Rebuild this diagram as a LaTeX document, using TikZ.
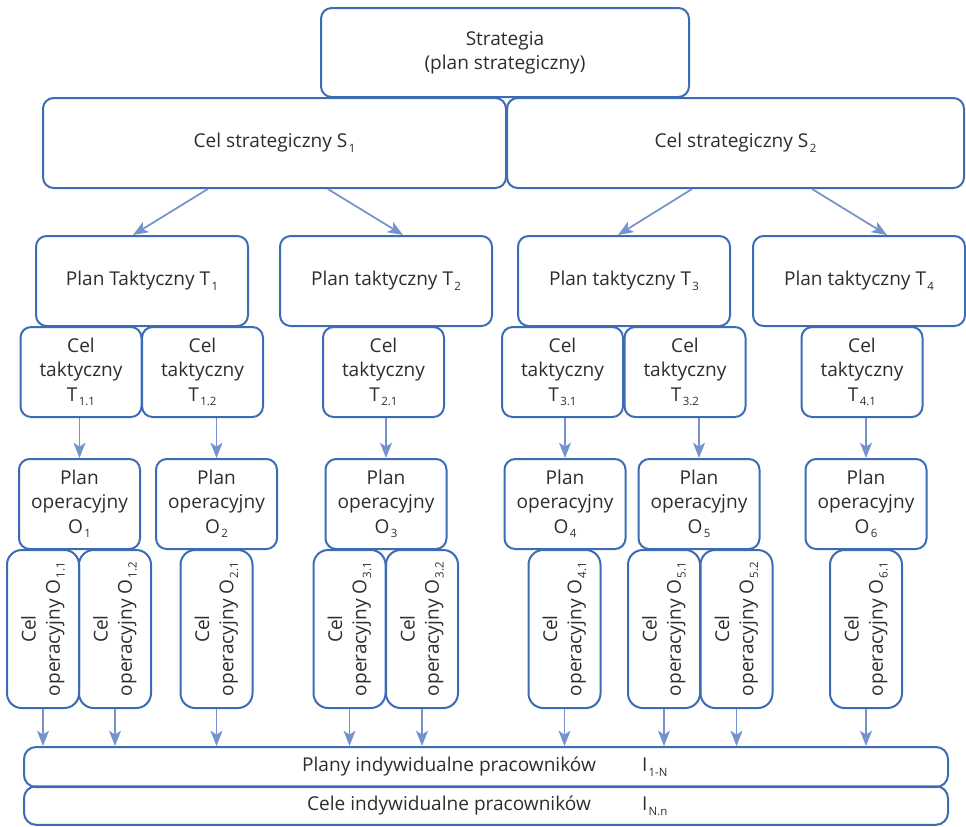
\documentclass[tikz,border=0pt]{standalone}
\usepackage{fontspec}
\setmainfont{Open Sans}
\usetikzlibrary{arrows.meta}
\definecolor{boxblue}{RGB}{59,108,180}
\definecolor{arrowblue}{RGB}{118,146,204}
\definecolor{txtgray}{RGB}{45,45,45}
\newcommand{\ix}[1]{\kern1pt\raisebox{-3.5pt}{\fontsize{8.6}{9}\selectfont #1}}
\newcommand{\indrow}[2]{\makebox[289.5pt]{#1}\makebox[55.5pt][l]{I\ix{#2}}}

\begin{document}
\begin{tikzpicture}[x=0.75pt, y=-0.75pt,
  every node/.style={font=\fontsize{14.3}{18.2}\selectfont, text=txtgray},
  topbox/.style={draw=boxblue, line width=1.5pt, rounded corners=8pt, align=center, inner sep=0pt, minimum height=67.5pt},
  smallbox/.style={topbox, minimum width=90.75pt},
  opbox/.style={draw=boxblue, line width=1.5pt, rounded corners=11pt, align=center, inner sep=0pt, rotate=90, minimum width=118.5pt, minimum height=54pt},
  indbox/.style={draw=boxblue, line width=1.5pt, rounded corners=9pt, inner sep=0pt, minimum width=693pt},
  arrow/.style={-{Stealth[length=11.5pt, width=9pt, inset=3pt]}, draw=arrowblue, line width=1.3pt}
]
\useasboundingbox (0,0) rectangle (966,826);

\node[topbox, minimum width=276pt, minimum height=66.75pt] (strat) at (505,52.5) {Strategia\\(plan strategiczny)};
\node[topbox, minimum width=347.25pt] (s1) at (274.5,143) {Cel strategiczny S\ix{1}};
\node[topbox, minimum width=342.75pt] (s2) at (735.5,143) {Cel strategiczny S\ix{2}};

\node[topbox, minimum width=159pt] (pt1) at (142,281) {Plan Taktyczny T\ix{1}};
\node[topbox, minimum width=159pt] (pt2) at (386,281) {Plan taktyczny T\ix{2}};
\node[topbox, minimum width=159pt] (pt3) at (624,281) {Plan taktyczny T\ix{3}};
\node[topbox, minimum width=159pt] (pt4) at (859,281) {Plan taktyczny T\ix{4}};

\node[smallbox] (ct11) at (81,372) {Cel\\taktyczny\\T\ix{1.1}};
\node[smallbox] (ct12) at (202.5,372) {Cel\\taktyczny\\T\ix{1.2}};
\node[smallbox] (ct21) at (383.5,372) {Cel\\taktyczny\\T\ix{2.1}};
\node[smallbox] (ct31) at (562.5,372) {Cel\\taktyczny\\T\ix{3.1}};
\node[smallbox] (ct32) at (685,372) {Cel\\taktyczny\\T\ix{3.2}};
\node[smallbox] (ct41) at (862,372) {Cel\\taktyczny\\T\ix{4.1}};

\node[smallbox] (po1) at (79.5,504) {Plan\\operacyjny\\O\ix{1}};
\node[smallbox] (po2) at (216.5,504) {Plan\\operacyjny\\O\ix{2}};
\node[smallbox] (po3) at (386,504) {Plan\\operacyjny\\O\ix{3}};
\node[smallbox] (po4) at (565,504) {Plan\\operacyjny\\O\ix{4}};
\node[smallbox] (po5) at (699,504) {Plan\\operacyjny\\O\ix{5}};
\node[smallbox] (po6) at (866,504) {Plan\\operacyjny\\O\ix{6}};

\node[opbox] (oc11) at (43,629) {Cel\\operacyjny O\ix{1.1}};
\node[opbox] (oc12) at (115,629) {Cel\\operacyjny O\ix{1.2}};
\node[opbox] (oc21) at (216.5,629) {Cel\\operacyjny O\ix{2.1}};
\node[opbox] (oc31) at (349.5,629) {Cel\\operacyjny O\ix{3.1}};
\node[opbox] (oc32) at (422,629) {Cel\\operacyjny O\ix{3.2}};
\node[opbox] (oc41) at (564.5,629) {Cel\\operacyjny O\ix{4.1}};
\node[opbox] (oc51) at (664,629) {Cel\\operacyjny O\ix{5.1}};
\node[opbox] (oc52) at (736.5,629) {Cel\\operacyjny O\ix{5.2}};
\node[opbox] (oc61) at (866,629) {Cel\\operacyjny O\ix{6.1}};

\node[indbox, minimum height=30pt] (plany) at (486,767) {\indrow{Plany indywidualne pracowników}{1-N}};
\node[indbox, minimum height=28.9pt] (cele) at (486,805.5) {\indrow{Cele indywidualne pracowników}{N.n}};

\draw[arrow] ([xshift=-50pt]s1.south) -- ([xshift=-6.75pt]pt1.north);
\draw[arrow] ([xshift=40pt]s1.south) -- ([xshift=12.75pt]pt2.north);
\draw[arrow] ([xshift=-32.6pt]s2.south) -- ([xshift=-4.5pt]pt3.north);
\draw[arrow] ([xshift=57.4pt]s2.south) -- ([xshift=21pt]pt4.north);

\draw[arrow] (po1.north |- ct11.south) -- (po1.north);
\draw[arrow] (po2.north |- ct12.south) -- (po2.north);
\draw[arrow] (po3.north |- ct21.south) -- (po3.north);
\draw[arrow] (po4.north |- ct31.south) -- (po4.north);
\draw[arrow] (po5.north |- ct32.south) -- (po5.north);
\draw[arrow] (po6.north |- ct41.south) -- (po6.north);

\foreach \oc in {oc11,oc12,oc21,oc31,oc32,oc41,oc51,oc52,oc61}
  \draw[arrow] (\oc.west) -- (\oc.west |- plany.north);
\end{tikzpicture}
\end{document}
